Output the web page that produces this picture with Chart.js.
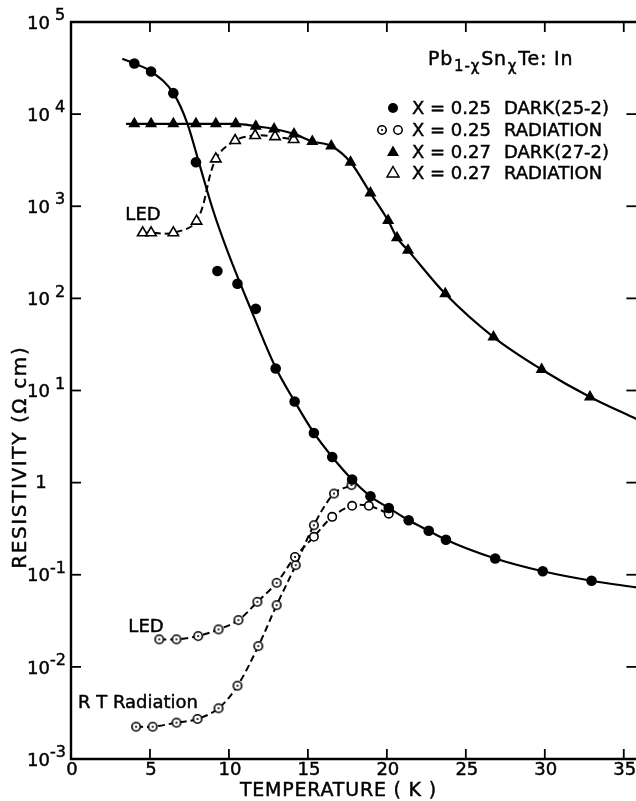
<!DOCTYPE html>
<html>
<head>
<meta charset="utf-8">
<script src="https://cdn.jsdelivr.net/npm/chart.js@4/dist/chart.umd.min.js"></script>
<style>
  html, body { margin: 0; padding: 0; background: #fff; overflow: hidden; }
  canvas { display: block; }
</style>
</head>
<body>
<canvas id="chart" width="644" height="801"></canvas>
<script>
// axis ticks
const xTicks = [0, 5, 10, 15, 20, 25, 30, 35];
const yTickExps = [5, 4, 3, 2, 1, 0, -1, -2, -3];

// X = 0.25 dark (25-2), filled circles
const dark25T = [4.01, 5.07, 6.48, 7.91, 9.27, 10.54, 11.70, 12.96, 14.16, 15.38, 16.54, 17.80, 18.96, 20.12, 21.38, 22.65, 23.74, 26.86, 29.87, 32.96];
const dark25R = [3.54e4, 2.9e4, 1.69e4, 3.0e3, 198, 144, 77, 17.3, 7.6, 3.46, 1.9, 1.08, 0.71, 0.53, 0.39, 0.30, 0.24, 0.150, 0.109, 0.086];
// smooth curve drawn through the dark 25-2 data
const fit25T = [3.25, 4.0, 5.07, 6.48, 7.37, 8.12, 9.0, 9.89, 11.39, 12.98, 14.16, 15.38, 16.54, 17.80, 18.96, 20.12, 21.38, 22.65, 23.74, 26.86, 29.87, 32.96, 35.8];
const fit25R = [4.0e4, 3.55e4, 2.9e4, 1.69e4, 7.9e3, 2.9e3, 900, 332, 76, 17.4, 7.6, 3.46, 1.9, 1.08, 0.71, 0.53, 0.39, 0.30, 0.24, 0.150, 0.109, 0.086, 0.073];

// X = 0.27 dark (27-2), filled triangles
const dark27T = [4.01, 5.07, 6.48, 7.91, 9.17, 10.43, 11.70, 12.86, 14.12, 15.28, 16.48, 17.70, 18.96, 20.08, 20.64, 21.34, 23.70, 26.75, 29.80, 32.86];
const dark27R = [7.85e3, 7.85e3, 7.85e3, 7.85e3, 7.85e3, 7.85e3, 7.4e3, 6.9e3, 6.1e3, 5.05e3, 4.5e3, 3.0e3, 1.39e3, 700, 455, 332, 112, 38, 16.9, 8.5];
const fit27T = [3.49, 4.01, 7.91, 10.43, 11.70, 12.86, 14.12, 15.28, 16.48, 17.70, 18.96, 20.08, 20.64, 21.34, 23.70, 26.75, 29.80, 32.86, 35.8];
const fit27R = [7.85e3, 7.85e3, 7.85e3, 7.85e3, 7.4e3, 6.9e3, 6.1e3, 5.05e3, 4.5e3, 3.0e3, 1.39e3, 700, 455, 332, 112, 38, 16.9, 8.5, 4.9];

// X = 0.27 radiation (LED), open triangles
const rad27T = [4.54, 5.07, 6.48, 7.95, 9.17, 10.39, 11.66, 12.92, 14.10];
const rad27R = [515, 515, 515, 690, 3.27e3, 5.17e3, 5.86e3, 5.7e3, 5.3e3];

// X = 0.25 radiation, LED
const led25T = [5.59, 6.68, 8.05, 9.34, 10.60, 11.80, 13.02, 14.18, 15.38, 16.54, 17.80, 18.86, 20.12];
const led25R = [0.0199, 0.0199, 0.0216, 0.0255, 0.0322, 0.0508, 0.0817, 0.156, 0.258, 0.425, 0.56, 0.56, 0.46];

// X = 0.25 radiation, RT radiation
const rt25T = [4.12, 5.17, 6.68, 8.01, 9.34, 10.54, 11.86, 13.02, 14.23, 15.38, 16.65, 17.76];
const rt25R = [0.00224, 0.00224, 0.00248, 0.00272, 0.00355, 0.00624, 0.0168, 0.0468, 0.127, 0.345, 0.76, 0.94];

const legendSymbols = ['dot', 'ring', 'tri', 'openTri'];
const legendX = ['X = 0.25', 'X = 0.25', 'X = 0.27', 'X = 0.27'];
const legendText = ['DARK(25-2)', 'RADIATION', 'DARK(27-2)', 'RADIATION'];

const FONT = '"DejaVu Sans", "Liberation Sans", sans-serif';
const pts = (t, r) => t.map((v, i) => ({ x: v, y: r[i] }));

// circle with a dot in the middle, used as point style
function dottedRing() {
  const c = document.createElement('canvas');
  c.width = 12; c.height = 12;
  const g = c.getContext('2d');
  g.fillStyle = '#fff';
  g.strokeStyle = '#000';
  g.lineWidth = 1.6;
  g.beginPath(); g.arc(6, 6, 4.2, 0, Math.PI * 2); g.fill(); g.stroke();
  g.fillStyle = '#000';
  g.beginPath(); g.arc(6, 6, 1.1, 0, Math.PI * 2); g.fill();
  return c;
}
const ring = dottedRing();

const framePlugin = {
  id: 'frame',
  afterDraw(chart) {
    const { ctx, chartArea: a, scales: { x, y } } = chart;
    const line = (x1, y1, x2, y2) => { ctx.beginPath(); ctx.moveTo(x1, y1); ctx.lineTo(x2, y2); ctx.stroke(); };
    // slightly heavier text, like the printed figure
    const text = (t, px, py) => { ctx.fillText(t, px, py); ctx.strokeText(t, px, py); };
    ctx.save();
    ctx.strokeStyle = '#000';
    ctx.fillStyle = '#000';
    ctx.lineWidth = 2.4;
    ctx.beginPath();
    ctx.moveTo(a.right, a.top); ctx.lineTo(a.left, a.top);
    ctx.lineTo(a.left, a.bottom); ctx.lineTo(a.right, a.bottom);
    ctx.stroke();

    ctx.lineWidth = 1.8;
    xTicks.forEach(v => {
      const px = x.getPixelForValue(v);
      line(px, a.bottom, px, a.bottom - 10);
      line(px, a.top, px, a.top + 10);
    });
    yTickExps.forEach(e => {
      const py = y.getPixelForValue(Math.pow(10, e));
      line(a.left, py, a.left + 10, py);
      line(a.right, py, a.right - 10, py);
    });

    ctx.lineWidth = 0.45;
    // x tick labels
    ctx.font = '18px ' + FONT;
    ctx.textAlign = 'center';
    ctx.textBaseline = 'middle';
    xTicks.forEach(v => text(String(v), x.getPixelForValue(v) + 1, a.bottom + 11));

    // y tick labels, 10 with exponent
    yTickExps.forEach(e => {
      const py = y.getPixelForValue(Math.pow(10, e));
      if (e === 0) {
        ctx.font = '18px ' + FONT;
        ctx.textAlign = 'center';
        text('1', 41, py + 1);
        return;
      }
      ctx.font = '18px ' + FONT;
      ctx.textAlign = 'right';
      text('10', 50, py + 2);
      ctx.font = '16px ' + FONT;
      ctx.textAlign = 'left';
      text(e > 0 ? String(e) : '-' + (-e), e > 0 ? 55 : 50, py - 6);
    });

    // axis titles
    const spaced = (txt, cx, cy, width) => {
      ctx.letterSpacing = '0px';
      const w = ctx.measureText(txt).width;
      const ls = (width - w) / txt.length;
      ctx.letterSpacing = ls + 'px';
      text(txt, cx + ls / 2, cy);
      ctx.letterSpacing = '0px';
    };
    ctx.font = '19px ' + FONT;
    ctx.textAlign = 'center';
    spaced('TEMPERATURE ( K )', 338, 791, 197);
    ctx.save();
    ctx.translate(21, 458);
    ctx.rotate(-Math.PI / 2);
    ctx.font = '20px ' + FONT;
    spaced('RESISTIVITY (Ω cm)', 0, 0, 223);
    ctx.restore();

    // curve labels
    ctx.font = '18px ' + FONT;
    ctx.textAlign = 'center';
    text('LED', 143, 215);
    text('LED', 146, 627);
    ctx.textAlign = 'left';
    text('R T Radiation', 78, 703);

    // compound name
    let cx = 428;
    const part = (txt, size, by, gap) => {
      ctx.font = size + 'px ' + FONT;
      ctx.textBaseline = 'alphabetic';
      ctx.letterSpacing = '0.8px';
      text(txt, cx, by);
      cx += ctx.measureText(txt).width + gap;
      ctx.letterSpacing = '0px';
    };
    ctx.textAlign = 'left';
    part('Pb', 19, 65, 1);
    part('1-χ', 15, 71, 1);
    part('Sn', 19, 65, 1);
    part('χ', 15, 71, 1);
    part('Te: In', 19, 65, 0);

    // legend
    ctx.textBaseline = 'middle';
    ctx.font = '18px ' + FONT;
    const rows = [108, 130, 152, 173];
    legendSymbols.forEach((s, i) => {
      const cy = rows[i];
      ctx.lineWidth = 1.5;
      if (s === 'dot') {
        ctx.beginPath(); ctx.arc(393, cy, 5, 0, Math.PI * 2); ctx.fill();
      } else if (s === 'ring') {
        ctx.drawImage(ring, 382 - 6, cy - 6);
        ctx.beginPath(); ctx.arc(398, cy, 4.2, 0, Math.PI * 2); ctx.stroke();
      } else {
        ctx.beginPath();
        ctx.moveTo(393, cy - 6.5); ctx.lineTo(399, cy + 4); ctx.lineTo(387, cy + 4); ctx.closePath();
        if (s === 'tri') ctx.fill(); else ctx.stroke();
      }
      ctx.lineWidth = 0.45;
      text(legendX[i], 412, cy + 1);
      text(legendText[i], 504, cy + 1);
    });
    ctx.restore();
  }
};

new Chart(document.getElementById('chart').getContext('2d'), {
  type: 'line',
  data: {
    datasets: [
      { label: 'dark25', data: pts(dark25T, dark25R), showLine: false,
        pointStyle: 'circle', pointRadius: 5.3, backgroundColor: '#000', borderColor: '#000', borderWidth: 0 },
      { label: 'dark27', data: pts(dark27T, dark27R), showLine: false,
        pointStyle: 'triangle', pointRadius: 7, backgroundColor: '#000', borderColor: '#000', borderWidth: 0 },
      { label: 'rad27', data: pts(rad27T, rad27R), borderColor: '#000', borderWidth: 2, borderDash: [7, 4],
        tension: 0.35, pointStyle: 'triangle', pointRadius: 6, pointBorderWidth: 1.6,
        pointBackgroundColor: '#fff', pointBorderColor: '#000' },
      { label: 'led25', data: pts(led25T, led25R), borderColor: '#000', borderWidth: 2, borderDash: [7, 4],
        tension: 0.35, pointStyle: led25T.map((t, i) => i >= 8 ? 'circle' : ring), pointRadius: 4.2,
        pointBorderWidth: 1.6, pointBackgroundColor: '#fff', pointBorderColor: '#000' },
      { label: 'rt25', data: pts(rt25T, rt25R), borderColor: '#000', borderWidth: 2, borderDash: [7, 4],
        tension: 0.35, pointStyle: ring, pointRadius: 4.2,
        pointBackgroundColor: '#fff', pointBorderColor: '#000' },
      { label: 'fit25', data: pts(fit25T, fit25R), borderColor: '#000', borderWidth: 2.2,
        cubicInterpolationMode: 'monotone', pointRadius: 0 },
      { label: 'fit27', data: pts(fit27T, fit27R), borderColor: '#000', borderWidth: 2.2,
        cubicInterpolationMode: 'monotone', pointRadius: 0 }
    ]
  },
  options: {
    responsive: false,
    animation: false,
    events: [],
    layout: { padding: { left: 71, top: 22, right: 6, bottom: 42 } },
    scales: {
      x: { type: 'linear', min: 0, max: 35.8, display: false },
      y: { type: 'logarithmic', min: 1e-3, max: 1e5, display: false }
    },
    plugins: { legend: { display: false }, tooltip: { enabled: false } }
  },
  plugins: [framePlugin]
});
</script>
</body>
</html>
